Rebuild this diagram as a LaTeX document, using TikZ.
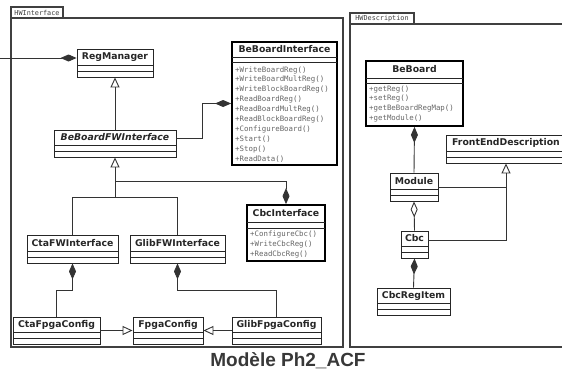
\documentclass[tikz,border=0pt]{standalone}
\usepackage{fontspec}
\usetikzlibrary{arrows.meta,fit}
\newfontfamily\dvs{DejaVu Sans}
\newfontfamily\dvsm{DejaVu Sans Mono}
\newfontfamily\lsans{Liberation Sans}
\newcommand\namefnt{\dvs\bfseries\fontsize{9.3}{10}\selectfont}
\newcommand\opsfnt{\dvsm\fontsize{7.4}{8}\selectfont}
\tikzset{
  clsbox/.style={draw=black!85, line width=0.9pt, inner sep=0pt, fill=white},
  clsthick/.style={draw=black, line width=1.8pt},
  cmpline/.style={draw=black!85, line width=0.8pt},
  cname/.style={font=\namefnt, text=black!85, inner sep=0pt},
  cops/.style={font=\opsfnt, text=black!60, anchor=west, inner sep=0pt},
  link/.style={draw=black!80, line width=0.9pt},
  comp/.style={link, {Diamond[length=16pt,width=7pt]}-},
  aggr/.style={link, {Diamond[open,length=16pt,width=7pt]}-},
  inh/.style={link, -{Triangle[open,length=10pt,width=9pt]}},
  pkg/.style={draw=black!75, line width=1.3pt},
  pkglabel/.style={font=\dvsm\fontsize{6.8}{7}\selectfont, text=black!75, inner sep=0pt},
}
% id, x1, y1, x2, y2, line1, line2, extra style, title
\newcommand\umlclass[9]{%
  \node[clsbox, #8, fit={(#2,#3)(#4,#5)}] (#1) {};
  \draw[cmpline] (#2,#6) -- (#4,#6);
  \draw[cmpline] (#2,#7) -- (#4,#7);
  \node[cname] (#1-t) at ({(#2+#4)/2},{(#3+#6)/2}) {#9};
}
\begin{document}
\begin{tikzpicture}[x=1pt,y=-1pt]
\useasboundingbox (0,0) rectangle (562,372);
\clip (0,0) rectangle (562,372);
\fill[white] (0,0) rectangle (562,372);

% packages
\draw[pkg] (11,7) rectangle (63,18);
\node[pkglabel] (pkgA) at (37,12.5) {HWInterface};
\draw[pkg] (11,18) rectangle (343,347);
\draw[pkg] (350,13) rectangle (414,24);
\node[pkglabel] (pkgB) at (382,18.5) {HWDescription};
\draw[pkg] (350,24) rectangle (580,347);

% classes HWInterface
\umlclass{regm}{77}{49}{153}{77}{65}{71}{}{RegManager}
\umlclass{bbfw}{54}{130}{176}{157}{145}{151}{}{\itshape BeBoardFWInterface}
\umlclass{bbi}{232}{42}{337}{165}{57}{62}{clsthick}{BeBoardInterface}
\foreach \t [count=\i from 0] in {+WriteBoardReg(),+WriteBoardMultReg(),+WriteBlockBoardReg(),+ReadBoardReg(),+ReadBoardMultReg(),+ReadBlockBoardReg(),+ConfigureBoard(),+Start(),+Stop(),+ReadData()}
  \node[cops] (bbi-o\i) at (235,{70+\i*9.9}) {\t};
\umlclass{cbci}{247}{205}{325}{261}{222}{228}{clsthick}{CbcInterface}
\foreach \t [count=\i from 0] in {+ConfigureCbc(),+WriteCbcReg(),+ReadCbcReg()}
  \node[cops] (cbci-o\i) at (250,{234+\i*10}) {\t};
\umlclass{ctafw}{27}{235}{118}{263}{251}{257}{}{CtaFWInterface}
\umlclass{glibfw}{130}{235}{225}{263}{251}{257}{}{GlibFWInterface}
\umlclass{ctafpga}{13}{317}{100}{344}{332}{338}{}{CtaFpgaConfig}
\umlclass{fpga}{133}{317}{203}{344}{332}{338}{}{FpgaConfig}
\umlclass{glibfpga}{232}{317}{321}{344}{332}{338}{}{GlibFpgaConfig}

% classes HWDescription
\umlclass{bebrd}{366}{61}{463}{126}{78}{83}{clsthick}{BeBoard}
\foreach \t [count=\i from 0] in {+getReg(),+setReg(),+getBeBoardRegMap(),+getModule()}
  \node[cops] (bebrd-o\i) at (369,{89+\i*9.7}) {\t};
\umlclass{module}{390}{173}{438}{201}{189}{195}{}{Module}
\umlclass{fed}{446}{135}{566}{163}{151}{157}{}{FrontEndDescription}
\umlclass{cbc}{401}{231}{428}{258}{246}{252}{}{Cbc}
\umlclass{cbcreg}{377}{288}{450}{315}{303}{309}{}{CbcRegItem}

% connectors HWInterface
\coordinate (ext) at (-5,58);
\draw[comp] ([yshift=5pt]regm.west) -- (ext);
\draw[inh] (bbfw.north) -- (regm.south);
\draw[comp] (bbi.west) -- ++(-29pt,0) |- ([yshift=5pt]bbfw.east);
\coordinate (j1) at ([yshift=-40pt]bbfw.south);
\draw[link] (ctafw.north) |- (j1);
\draw[link] (glibfw.north) |- (j1);
\draw[inh] (j1) -- (bbfw.south);
\draw[comp] (cbci.north) |- ([yshift=-24pt]bbfw.south);
\draw[comp] (ctafw.south) -- ++(0,-27pt) -| (ctafpga.north);
\draw[comp] (glibfw.south) -- ++(0,-27pt) -| (glibfpga.north);
\draw[inh] (ctafpga.east) -- (fpga.west);
\draw[inh] (glibfpga.west) -- (fpga.east);

% connectors HWDescription
\draw[comp] (bebrd.south) -- (module.north);
\draw[aggr] (module.south) -- (cbc.north);
\draw[comp] (cbc.south) -- (cbcreg.north);
\draw[inh] ([yshift=4.5pt]cbc.east) -| (fed.south);
\draw[link] (module.east) -- (module.east -| fed.south);

% caption
\node[font=\lsans\bfseries\fontsize{19}{22}\selectfont, text=black!78, inner sep=0pt] (cap) at (288,361) {Modèle Ph2\_ACF};
\end{tikzpicture}
\end{document}
